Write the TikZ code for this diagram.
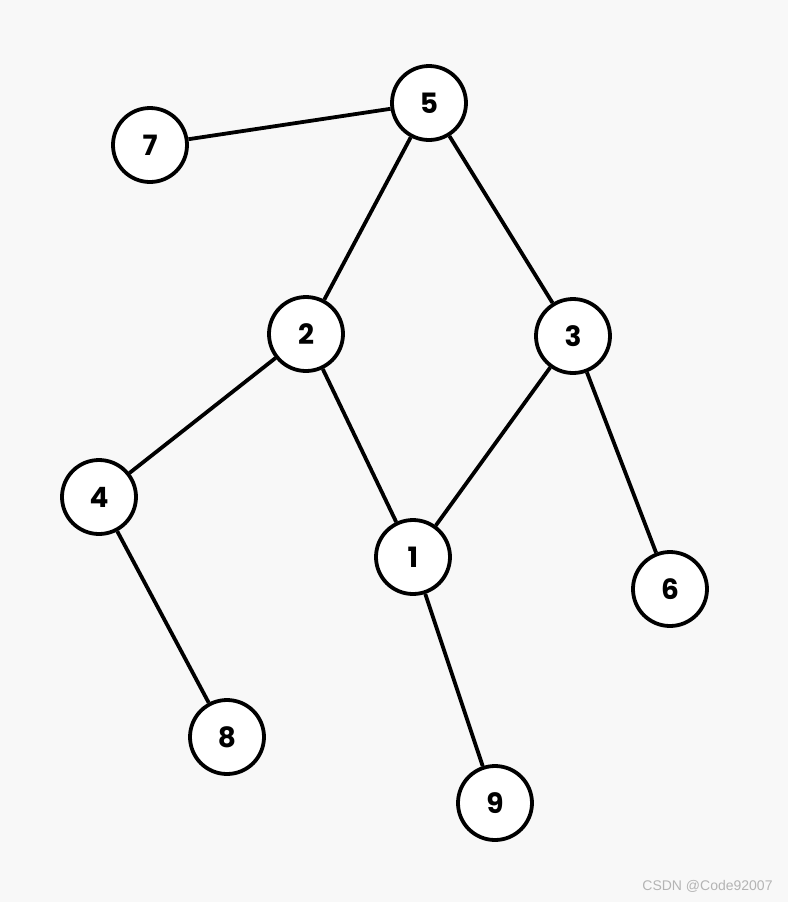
\documentclass[tikz,border=0pt]{standalone}
\usepackage{fontspec}
\setmainfont{Poppins}
\setsansfont{Liberation Sans}
\definecolor{paper}{HTML}{F8F8F8}
\definecolor{mark}{HTML}{B4B4B4}
\begin{document}
\begin{tikzpicture}[
  x=0.5pt,y=-0.5pt,
  vertex/.style={draw,circle,fill=white,line width=1.9pt,minimum size=37pt,
                 inner sep=0pt,font=\fontsize{14}{16}\selectfont\bfseries},
  edge/.style={line width=1.9pt}
]
\fill[paper] (0,0) rectangle (788,902);
\useasboundingbox (0,0) rectangle (788,902);
\node[vertex] (n5) at (429,103) {5};
\node[vertex] (n7) at (150,145) {7};
\node[vertex] (n2) at (306,334) {2};
\node[vertex] (n3) at (573,336) {3};
\node[vertex] (n4) at (99,497) {4};
\node[vertex] (n1) at (413,557) {1};
\node[vertex] (n6) at (670,589) {6};
\node[vertex] (n8) at (227,737) {8};
\node[vertex] (n9) at (495,803) {9};
\draw[edge] (n5) -- (n7);
\draw[edge] (n5) -- (n2);
\draw[edge] (n5) -- (n3);
\draw[edge] (n2) -- (n4);
\draw[edge] (n2) -- (n1);
\draw[edge] (n3) -- (n1);
\draw[edge] (n3) -- (n6);
\draw[edge] (n4) -- (n8);
\draw[edge] (n1) -- (n9);
% watermark
\node[anchor=east,text=mark,font=\sffamily\fontsize{7}{9}\selectfont,inner sep=0pt]
  (wm) at (773,886) {CSDN @Code92007};
\end{tikzpicture}
\end{document}
